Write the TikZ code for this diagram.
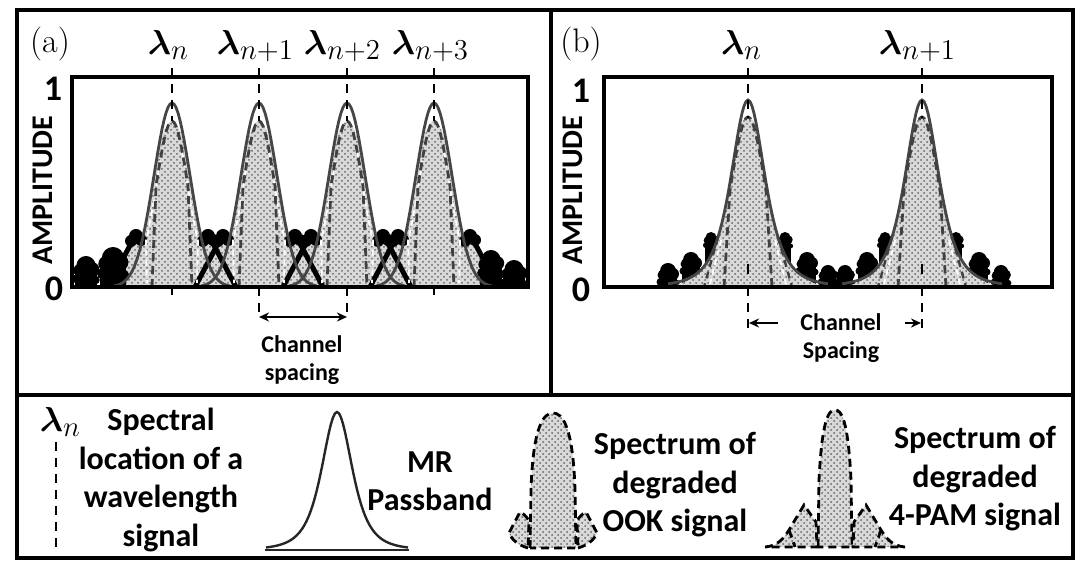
\documentclass[tikz,border=0pt]{standalone}
\usepackage{amsmath}
\usepackage{fontspec}
\setsansfont{Carlito}
\usetikzlibrary{patterns,arrows.meta}
\newcommand{\mound}[3]{%
  \fill[black] (#1-0.9*#3,287) rectangle (#1+0.9*#3,#2+#3);
  \fill[black] (#1,#2+0.8*#3) circle[radius=0.8*#3];
  \fill[black] (#1-0.5*#3,#2+1.2*#3) circle[radius=0.55*#3];
  \fill[black] (#1+0.5*#3,#2+1.1*#3) circle[radius=0.6*#3];
  \fill[black] (#1-0.75*#3,#2+1.9*#3) circle[radius=0.4*#3];
  \fill[black] (#1+0.8*#3,#2+2*#3) circle[radius=0.35*#3];}
\newcommand{\blobat}[2]{%
  \fill[black] (#1,#2+7) circle[radius=7] (#1-5,#2+12) circle[radius=6] (#1+5,#2+11) circle[radius=6];}
\newcommand{\lamsym}[1]{{\fontsize{16}{18}\selectfont$\boldsymbol{\lambda}$}\raisebox{-0.22em}{\fontsize{14}{16}\selectfont$#1$}}
\begin{document}
\begin{tikzpicture}[x=0.5pt,y=-0.5pt,
  frame/.style={line width=1.75pt},
  plotbox/.style={line width=2.25pt},
  pb/.style={draw=gray!55!black, line width=1.4pt},
  sig/.style={draw=black!75, line width=1.4pt, dash pattern=on 4pt off 2.5pt},
  sidel/.style={draw=black!75, line width=1.2pt, dash pattern=on 3.5pt off 2.5pt},
  wdash/.style={draw=white, line width=0.9pt, dash pattern=on 3pt off 2pt},
  stip/.style={fill=gray!30, postaction={pattern=crosshatch dots, pattern color=gray!80!black}},
  arm/.style={draw=black, line width=2.5pt},
  cdash/.style={draw=black, line width=1pt, dash pattern=on 4.5pt off 3.5pt},
  legdash/.style={draw=black, line width=1.4pt, dash pattern=on 4pt off 2.5pt},
  lab/.style={font=\fontsize{17}{19}\selectfont},
  lamlab/.style={anchor=base, inner sep=0pt},
  axnum/.style={font=\sffamily\bfseries\fontsize{18}{20}\selectfont},
  axtitle/.style={font=\sffamily\bfseries\fontsize{15}{17}\selectfont, rotate=90},
  cs/.style={font=\sffamily\bfseries\fontsize{12}{14}\selectfont, align=center},
  leg/.style={font=\sffamily\bfseries\fontsize{16}{19.25}\selectfont, align=center},
  spc/.style={line width=0.9pt, {Stealth[length=5pt,width=4.5pt]}-{Stealth[length=5pt,width=4.5pt]}},
]
\path[use as bounding box] (0,0) rectangle (1080,565);

% ---------------- panel (a) ----------------
\foreach \c in {172,259,347,434}{
  \fill[stip] (\c-46,287) -- plot[domain=-46:46,samples=47] ({\c+\x},{287-min(184*exp(-(\x)*(\x)/648),166*exp(-(\x)*(\x)/968))}) -- (\c+46,287) -- cycle;
  \fill[stip] (\c+20,287) -- (\c+27,237) -- (\c+37,234) -- (\c+64,287) -- cycle;
  \fill[stip] (\c-20,287) -- (\c-27,237) -- (\c-37,234) -- (\c-64,287) -- cycle;
}
\mound{86}{256}{12}
\mound{113}{247}{14}
\mound{491}{250}{12}
\mound{514}{260}{12}
\foreach \c in {172,259,347,434}{
  \draw[arm] (\c+37,236) -- (\c+64,287);
  \draw[arm] (\c-37,236) -- (\c-64,287);
  \blobat{\c+36}{229}
  \blobat{\c-36}{229}
}
\foreach \c in {172,259,347,434}{
  \draw[wdash] plot[domain=14:30,samples=9] ({\c+\x-4},{287-184*exp(-(\x)*(\x)/648)}) -- (\c+25,283);
  \draw[wdash] plot[domain=14:30,samples=9] ({\c-\x+4},{287-184*exp(-(\x)*(\x)/648)}) -- (\c-25,283);
  \draw[pb] plot[domain=-58:58,samples=59] ({\c+\x},{287-184*exp(-(\x)*(\x)/648)});
  \draw[sig] (\c-20,287) -- plot[domain=-16:16,samples=17] ({\c+\x},{287-166*exp(-(\x)*(\x)/512)}) -- (\c+20,287);
  \draw[cdash] (\c,68) -- (\c,121);
  \draw[line width=1pt] (\c,287) -- (\c,295);
}
\draw[plotbox] (72,77) rectangle (528,287);
\node[lab] (la) at (50,44) {(a)};
\node[lamlab] (la1) at (168,55) {\lamsym{n}};
\node[lamlab] (la2) at (255,55) {\lamsym{n{+}1}};
\node[lamlab] (la3) at (342,55) {\lamsym{n{+}2}};
\node[lamlab] (la4) at (430,55) {\lamsym{n{+}3}};
\node[axnum] (aone) at (53,89) {1};
\node[axnum] (azero) at (54,289) {0};
\node[axtitle] (aamp) at (43,190) {AMPLITUDE};
\coordinate (csa1) at (259,317);
\coordinate (csa2) at (347,317);
\draw[cdash] (259,287) -- (259,319);
\draw[cdash] (347,287) -- (347,319);
\draw[spc] (csa1) -- (csa2);
\node[cs] (csa) at (302,360) {Channel\\spacing};

% ---------------- panel (b) ----------------
\mound{668}{263}{10}
\mound{691}{252}{10}
\mound{711}{232}{7}
\mound{785}{232}{7}
\mound{807}{252}{10}
\mound{828}{265}{9}
\mound{845}{265}{9}
\mound{867}{252}{10}
\mound{885}{232}{7}
\mound{956}{232}{7}
\mound{979}{252}{10}
\mound{1001}{265}{9}
\foreach \c in {748,922}{
  \fill[stip] (\c-72,287) -- plot[domain=-72:72,samples=73] ({\c+\x},{287-min(187/((1+(\x)*(\x)/961)^2),170*exp(-(\x)*(\x)/1152))}) -- (\c+72,287) -- cycle;
}
\foreach \c in {748,922}{
  \draw[wdash] (\c-27,240) -- (\c-38,284);
  \draw[wdash] (\c+27,240) -- (\c+38,284);
  \draw[pb] plot[domain=-80:80,samples=81] ({\c+\x},{287-187/((1+(\x)*(\x)/961)^2)});
  \draw[sig] (\c-24,287) -- plot[domain=-18:18,samples=19] ({\c+\x},{287-170*exp(-(\x)*(\x)/578)}) -- (\c+24,287);
  \draw[sidel] (\c-30,237) -- (\c-44,287);
  \draw[sidel] (\c+30,237) -- (\c+44,287);
  \draw[cdash] (\c,68) -- (\c,118);
  \draw[line width=1pt] (\c,264) -- (\c,274);
  \draw[cdash] (\c,287) -- (\c,334);
}
\draw[plotbox] (604,77) rectangle (1052,287);
\node[lab] (lb) at (581,44) {(b)};
\node[lamlab] (lb1) at (741,55) {\lamsym{n}};
\node[lamlab] (lb2) at (917,55) {\lamsym{n{+}1}};
\node[axnum] (bone) at (581,91) {1};
\node[axnum] (bzero) at (581,290) {0};
\node[axtitle] (bamp) at (573,190) {AMPLITUDE};
\coordinate (csb1) at (749,323);
\coordinate (csb1s) at (778,323);
\coordinate (csb2) at (921,323);
\coordinate (csb2s) at (905,323);
\draw[line width=0.9pt, -{Stealth[length=5pt,width=4.5pt]}] (csb1s) -- (csb1);
\draw[line width=0.9pt, -{Stealth[length=5pt,width=4.5pt]}] (csb2s) -- (csb2);
\node[cs] (csb) at (841,338) {Channel\\Spacing};

% ---------------- frame ----------------
\draw[frame] (17,10) rectangle (1073,558);
\draw[frame] (17,395) -- (1073,395);
\draw[frame] (551,10) -- (551,395);

% ---------------- legend ----------------
\node[lamlab] (leglam) at (60,432) {\lamsym{n}};
\draw[cdash] (56,442) -- (56,552);
\node[leg] (legA) at (161,480) {Spectral\\location of a\\wavelength\\signal};

\draw[line width=1.2pt, black!85] plot[domain=-71:71,samples=71] ({337+\x},{550-138/((1+(\x)*(\x)/784)^2)});
\draw[line width=1.2pt, black!85] (265,550) -- (409,550);
\node[leg] (legB) at (430,481) {MR\\Passband};

\fill[stip] (530,548) -- (531,490) .. controls (533,425) and (544,413) .. (553,413) .. controls (562,413) and (573,425) .. (575,490) -- (576,548) -- cycle;
\draw[legdash] (530,548) -- (531,490) .. controls (533,425) and (544,413) .. (553,413) .. controls (562,413) and (573,425) .. (575,490) -- (576,548) -- cycle;
\fill[stip] (528,548) .. controls (518,545) and (512,540) .. (509,533) -- (520,512) .. controls (524,514) and (527,517) .. (529,521) -- cycle;
\draw[legdash] (528,548) .. controls (518,545) and (512,540) .. (509,533) -- (520,512) .. controls (524,514) and (527,517) .. (529,521) -- cycle;
\fill[stip] (578,548) .. controls (588,545) and (594,540) .. (597,533) -- (586,512) .. controls (582,514) and (579,517) .. (577,521) -- cycle;
\draw[legdash] (578,548) .. controls (588,545) and (594,540) .. (597,533) -- (586,512) .. controls (582,514) and (579,517) .. (577,521) -- cycle;
\node[leg] (legC) at (675,485) {Spectrum of\\degraded\\OOK signal};

\fill[stip] (818,547) -- (819,480) .. controls (822,418) and (829,410) .. (835,410) .. controls (841,410) and (848,418) .. (851,480) -- (852,547) -- cycle;
\draw[legdash] (818,547) -- (819,480) .. controls (822,418) and (829,410) .. (835,410) .. controls (841,410) and (848,418) .. (851,480) -- (852,547) -- cycle;
\fill[stip] (765,547) .. controls (778,546) and (784,538) .. (789,530) -- (804,505) -- (816,522) -- (817,547) -- cycle;
\draw[legdash] (765,547) .. controls (778,546) and (784,538) .. (789,530) -- (804,505) -- (816,522) -- (817,547) -- cycle;
\draw[legdash] (789,530) -- (795,547);
\fill[stip] (905,547) .. controls (892,546) and (886,538) .. (881,530) -- (866,505) -- (854,522) -- (853,547) -- cycle;
\draw[legdash] (905,547) .. controls (892,546) and (886,538) .. (881,530) -- (866,505) -- (854,522) -- (853,547) -- cycle;
\draw[legdash] (881,530) -- (875,547);
\node[leg] (legD) at (975,479) {Spectrum of\\degraded\\4-PAM signal};
\end{tikzpicture}
\end{document}
